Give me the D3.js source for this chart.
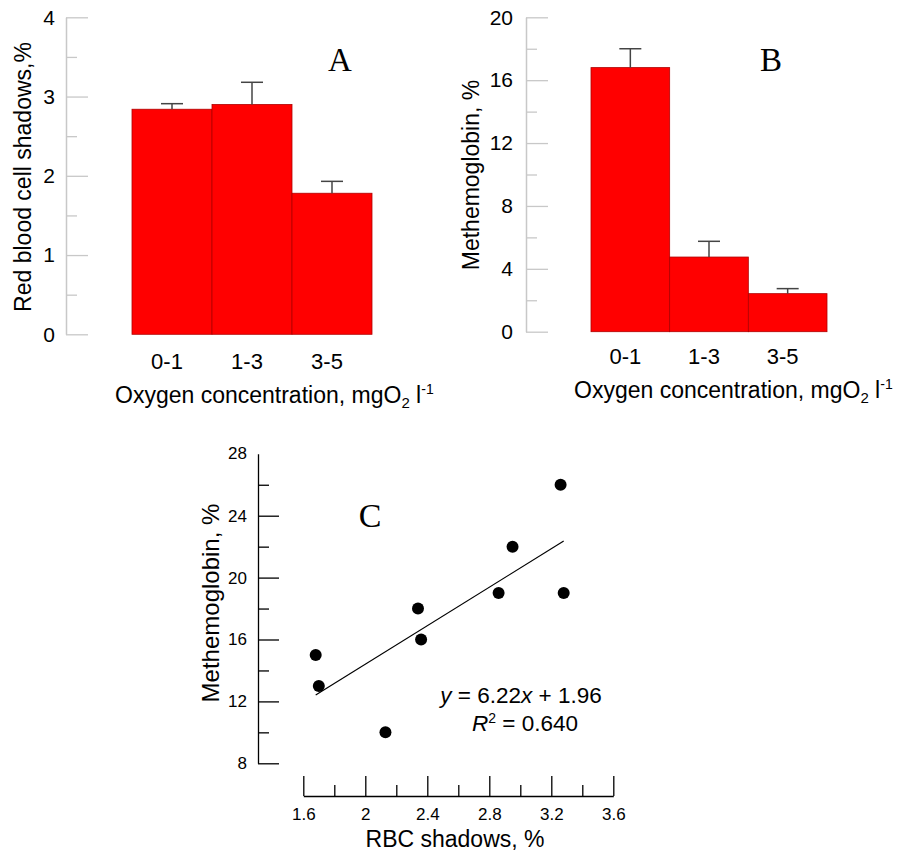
<!DOCTYPE html>
<html>
<head>
<meta charset="utf-8">
<script src="https://cdn.jsdelivr.net/npm/d3@7"></script>
<style>
  body { margin: 0; background: #fff; }
  text { font-family: Arial, "Liberation Sans", sans-serif; fill: #000; }
  .serif { font-family: "Liberation Serif", "Times New Roman", serif; }
</style>
</head>
<body>
<div id="chart"></div>
<script>
// data
var oxygenGroups = ["0-1", "1-3", "3-5"];
var rbcMeans = [2.84, 2.90, 1.78];
var rbcErrors = [0.07, 0.28, 0.15];
var metMeans = [16.8, 4.75, 2.42];
var metErrors = [1.2, 1.0, 0.32];

var rbcTicks = [0, 1, 2, 3, 4];
var metTicks = [0, 4, 8, 12, 16, 20];

var rbcShadows = [1.68, 1.70, 2.13, 2.34, 2.36, 2.86, 2.95, 3.26, 3.28];
var methemoglobin = [15, 13, 10, 18, 16, 19, 22, 26, 19];
var fitSlope = 6.22, fitIntercept = 1.96, fitR2 = 0.640;

var scatterYTicks = [8, 12, 16, 20, 24, 28];
var scatterXTicks = [1.6, 2, 2.4, 2.8, 3.2, 3.6];

var svg = d3.select("#chart").append("svg")
    .attr("width", 904)
    .attr("height", 851);

function barPanel(opt) {
    var g = svg.append("g");
    var x = d3.scaleBand().domain(oxygenGroups).range(opt.xRange).padding(0);
    var y = d3.scaleLinear().domain(opt.yDomain).range(opt.yRange);

    // minor ticks
    var minor = g.append("g")
        .attr("transform", "translate(" + opt.axisX + ",0)")
        .call(d3.axisLeft(y).tickValues(opt.minor).tickSizeInner(-11).tickSizeOuter(0).tickFormat(""));
    minor.selectAll("line").attr("stroke", "#c8c8c8").attr("stroke-width", 1.3);
    minor.select(".domain").remove();

    var ax = g.append("g")
        .attr("transform", "translate(" + opt.axisX + ",0)")
        .call(d3.axisLeft(y).tickValues(opt.ticks).tickSizeInner(-22).tickSizeOuter(0).tickPadding(opt.pad)
            .tickFormat(d3.format("d")));
    ax.select(".domain").attr("stroke", "#c8c8c8").attr("stroke-width", 1.5);
    ax.selectAll("line").attr("stroke", "#c8c8c8").attr("stroke-width", 1.3);
    ax.selectAll("text").attr("font-size", 21).attr("font-family", "Arial, 'Liberation Sans', sans-serif").attr("fill", "#000");

    var data = opt.means.map(function (m, i) { return { k: oxygenGroups[i], m: m, e: opt.errors[i] }; });

    g.selectAll("rect.bar").data(data).enter().append("rect")
        .attr("class", "bar")
        .attr("x", function (d) { return x(d.k); })
        .attr("width", x.bandwidth())
        .attr("y", function (d) { return y(d.m); })
        .attr("height", function (d) { return y(0) - y(d.m); })
        .attr("fill", "#ff0000")
        .attr("stroke", "#b00000")
        .attr("stroke-width", 0.8);

    var err = g.selectAll("g.err").data(data).enter().append("g").attr("class", "err");
    err.append("line")
        .attr("x1", function (d) { return x(d.k) + x.bandwidth() / 2; })
        .attr("x2", function (d) { return x(d.k) + x.bandwidth() / 2; })
        .attr("y1", function (d) { return y(d.m); })
        .attr("y2", function (d) { return y(d.m + d.e); })
        .attr("stroke", "#444").attr("stroke-width", 1.5);
    err.append("line")
        .attr("x1", function (d) { return x(d.k) + x.bandwidth() / 2 - 11; })
        .attr("x2", function (d) { return x(d.k) + x.bandwidth() / 2 + 11; })
        .attr("y1", function (d) { return y(d.m + d.e); })
        .attr("y2", function (d) { return y(d.m + d.e); })
        .attr("stroke", "#444").attr("stroke-width", 1.5);

    // category labels
    g.selectAll("text.cat").data(oxygenGroups).enter().append("text")
        .attr("class", "cat")
        .attr("x", function (d) { return x(d) + x.bandwidth() / 2 - 5; })
        .attr("y", opt.catY)
        .attr("text-anchor", "middle")
        .attr("font-size", 22)
        .text(function (d) { return d; });

    // x title
    var xt = g.append("text")
        .attr("x", opt.xTitle[0]).attr("y", opt.xTitle[1])
        .attr("font-size", 23);
    xt.append("tspan").text("Oxygen concentration, mgO");
    xt.append("tspan").attr("font-size", 15).attr("dy", 5).text("2");
    xt.append("tspan").attr("dy", -5).text(" " + "l");
    xt.append("tspan").attr("font-size", 14).attr("dy", -9).text("-1");

    // y title
    g.append("text")
        .attr("transform", "translate(" + opt.yTitle[0] + "," + opt.yTitle[1] + ") rotate(-90)")
        .attr("text-anchor", "middle")
        .attr("font-size", 23)
        .text(opt.yLabel);

    g.append("text")
        .attr("class", "serif")
        .attr("x", opt.letter[0]).attr("y", opt.letter[1])
        .attr("text-anchor", "middle")
        .attr("font-size", 33)
        .text(opt.letterText);
}

barPanel({
    xRange: [132, 372], yDomain: [0, 4], yRange: [334.3, 17.3],
    axisX: 66, pad: 11, ticks: rbcTicks, minor: [0.5, 1.5, 2.5, 3.5],
    means: rbcMeans, errors: rbcErrors, catY: 369,
    xTitle: [115, 403], yTitle: [31, 177], yLabel: "Red blood cell shadows,%",
    letter: [340, 71], letterText: "A"
});

barPanel({
    xRange: [591, 827], yDomain: [0, 20], yRange: [331.7, 17.3],
    axisX: 526, pad: 13, ticks: metTicks, minor: [2, 6, 10, 14, 18],
    means: metMeans, errors: metErrors, catY: 364,
    xTitle: [574, 398], yTitle: [479, 175], yLabel: "Methemoglobin, %",
    letter: [771, 71], letterText: "B"
});

// panel C scatter
var cg = svg.append("g");
var sx = d3.scaleLinear().domain([1.6, 3.6]).range([303.3, 613.3]);
var sy = d3.scaleLinear().domain([8, 28]).range([763.3, 453.8]);

var yMinor = cg.append("g").attr("transform", "translate(258,0)")
    .call(d3.axisLeft(sy).tickValues([10, 14, 18, 22, 26]).tickSizeInner(-11).tickSizeOuter(0).tickFormat(""));
yMinor.select(".domain").remove();
var yAx = cg.append("g").attr("transform", "translate(258,0)")
    .call(d3.axisLeft(sy).tickValues(scatterYTicks.slice(0, 5)).tickSizeInner(-21).tickSizeOuter(0).tickPadding(11));
yAx.selectAll("text").attr("font-size", 17).attr("font-family", "Arial, 'Liberation Sans', sans-serif");
cg.append("text").attr("x", 247).attr("y", sy(28)).attr("dy", "0.32em")
    .attr("text-anchor", "end").attr("font-size", 17).text(scatterYTicks[5]);

var xMinor = cg.append("g").attr("transform", "translate(0,796)")
    .call(d3.axisBottom(sx).tickValues([1.8, 2.2, 2.6, 3.0, 3.4]).tickSizeInner(-11).tickSizeOuter(0).tickFormat(""));
xMinor.select(".domain").remove();
var xAx = cg.append("g").attr("transform", "translate(0,796)")
    .call(d3.axisBottom(sx).tickValues(scatterXTicks).tickSizeInner(-20).tickSizeOuter(0).tickPadding(12)
        .tickFormat(function (d) { return String(d); }));
xAx.selectAll("text").attr("font-size", 17).attr("font-family", "Arial, 'Liberation Sans', sans-serif");

cg.selectAll(".tick line, .domain").attr("stroke", "#000").attr("stroke-width", 1.3);

var xr = d3.extent(rbcShadows);
cg.append("line")
    .attr("x1", sx(xr[0])).attr("y1", sy(fitSlope * xr[0] + fitIntercept))
    .attr("x2", sx(xr[1])).attr("y2", sy(fitSlope * xr[1] + fitIntercept))
    .attr("stroke", "#000").attr("stroke-width", 1.2);

cg.selectAll("circle").data(rbcShadows).enter().append("circle")
    .attr("cx", function (d) { return sx(d); })
    .attr("cy", function (d, i) { return sy(methemoglobin[i]); })
    .attr("r", 6)
    .attr("fill", "#000");

var eq = cg.append("text").attr("x", 521).attr("y", 703).attr("text-anchor", "middle").attr("font-size", 22.5);
eq.append("tspan").attr("font-style", "italic").text("y");
eq.append("tspan").text(" = " + fitSlope.toFixed(2));
eq.append("tspan").attr("font-style", "italic").text("x");
eq.append("tspan").text(" + " + fitIntercept.toFixed(2));

var r2 = cg.append("text").attr("x", 525).attr("y", 731).attr("text-anchor", "middle").attr("font-size", 22.5);
r2.append("tspan").attr("font-style", "italic").text("R");
r2.append("tspan").attr("font-size", 14).attr("dy", -8).text("2");
r2.append("tspan").attr("dy", 8).text(" = " + fitR2.toFixed(3));

cg.append("text").attr("x", 455).attr("y", 847).attr("text-anchor", "middle").attr("font-size", 23)
    .text("RBC shadows, %");
cg.append("text").attr("transform", "translate(219,603) rotate(-90)").attr("text-anchor", "middle")
    .attr("font-size", 24).text("Methemoglobin, %");
cg.append("text").attr("class", "serif").attr("x", 370).attr("y", 527).attr("text-anchor", "middle")
    .attr("font-size", 34).text("C");
</script>
</body>
</html>
